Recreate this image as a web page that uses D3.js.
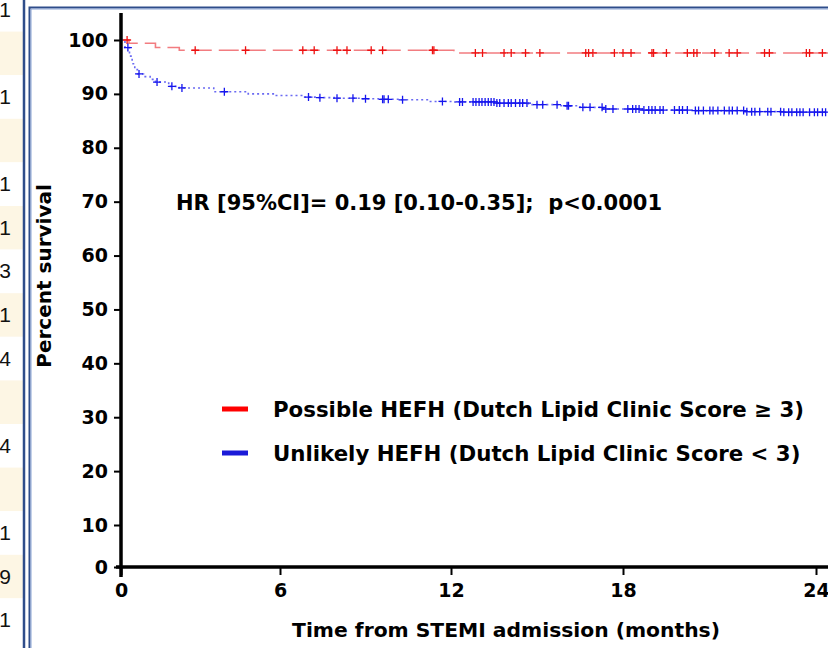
<!DOCTYPE html>
<html>
<head>
<meta charset="utf-8">
<script src="https://cdn.jsdelivr.net/npm/d3@7"></script>
<style>
	body { margin: 0; background: #fff; }
	svg { display: block; }
	text { font-family: "DejaVu Sans", "Open Sans", sans-serif; white-space: pre; }
</style>
</head>
<body>
<div id="chart"></div>
<script>

// survival steps (months, percent)
var redTimes = [0, 0.3, 1.3, 2.2, 12.1];
var redSurv  = [100, 99.4, 98.6, 98.1, 97.6];
var redCensor = [0.23, 2.8, 4.7, 6.8, 7.2, 8.0, 8.35, 9.2, 9.6, 11.35, 11.4, 12.85, 13.1, 13.85, 14.1, 14.6, 15.1,
	16.7, 16.8, 16.95, 17.7, 18.0, 18.25, 18.9, 18.95, 19.35, 20.0, 20.2, 20.3, 20.85, 21.3, 21.55, 22.4, 22.55,
	23.7, 23.8, 24.2];

var blueTimes = [0, 0.15, 0.32, 0.42, 0.52, 0.62, 0.85, 1.1, 1.3, 1.8, 2.2, 3.5, 4.8, 5.8, 6.8, 7.3, 7.9, 8.9, 9.5,
	10.2, 11.2, 12.1, 13.6, 14.7, 15.8, 16.5, 17.3, 18.6, 20.2, 21.8, 23.0];
var blueSurv  = [100, 98.6, 97.0, 95.6, 94.5, 93.7, 93.2, 92.7, 92.2, 91.4, 91.1, 90.4, 90.0, 89.7, 89.4, 89.3, 89.2,
	89.1, 89.0, 88.9, 88.6, 88.5, 88.3, 88.0, 87.8, 87.5, 87.2, 87.0, 86.9, 86.7, 86.6];
var blueCensor = [0.26, 0.68, 1.36, 1.92, 2.3, 3.9, 7.0, 7.4, 8.0, 8.56, 9.0, 9.6, 9.65, 9.8, 10.3, 11.7, 12.3, 12.4,
	12.77, 12.87, 12.98, 13.08, 13.19, 13.3, 13.4, 13.5, 13.6, 13.7, 13.85, 14.0, 14.1, 14.25, 14.4, 14.5, 14.65,
	15.0, 15.2, 15.7, 16.05, 16.1, 16.6, 16.85, 17.27, 17.4, 17.65, 18.15, 18.3, 18.4, 18.5, 18.65, 18.8, 18.9,
	19.0, 19.15, 19.25, 19.6, 19.75, 19.85, 20.0, 20.25, 20.35, 20.5, 20.7, 20.8, 20.95, 21.15, 21.3, 21.4, 21.55,
	21.75, 21.85, 22.0, 22.1, 22.25, 22.5, 22.6, 22.9, 23.0, 23.15, 23.25, 23.4, 23.5, 23.6, 23.8, 23.95, 24.05,
	24.2, 24.3];
var endTime = 24.4;

var xTicks = [0, 6, 12, 18, 24];
var yTicks = [0, 10, 20, 30, 40, 50, 60, 70, 80, 90, 100];
var legendLabels = ["Possible HEFH (Dutch Lipid Clinic Score \u2265 3)", "Unlikely HEFH (Dutch Lipid Clinic Score < 3)"];
var hrText = "HR [95%CI]= 0.19 [0.10-0.35];  p<0.0001";

// bits of the neighbouring table cut off on the left
var stripLabels = ["1", "", "1", "", "1", "1", "3", "1", "4", "", "4", "", "1", "9", "1"];

var width = 828, height = 648;

var svg = d3.select("#chart").append("svg")
	.attr("width", width)
	.attr("height", height);

svg.append("rect").attr("width", width).attr("height", height).attr("fill", "#fff");

// left strip
var rowScale = d3.scaleBand().domain(d3.range(stripLabels.length)).range([-12, 642]);
svg.append("g").selectAll("rect").data(stripLabels).enter().append("rect")
	.attr("x", 0)
	.attr("y", function(d, i) { return rowScale(i); })
	.attr("width", 23)
	.attr("height", rowScale.bandwidth())
	.attr("fill", function(d, i) { return i % 2 ? "#fdf6e4" : "#fff"; });
svg.append("g").selectAll("text").data(stripLabels).enter().append("text")
	.attr("x", 11)
	.attr("y", function(d, i) { return rowScale(i) + rowScale.bandwidth() / 2 + 7; })
	.attr("text-anchor", "end")
	.style("font-family", "'Liberation Sans', sans-serif")
	.style("font-size", "21px")
	.attr("fill", "#111")
	.text(function(d) { return d; });

// frame lines
svg.append("line").attr("x1", 24).attr("x2", 24).attr("y1", 0).attr("y2", height)
	.attr("stroke", "#2f4d8a").attr("stroke-width", 2.5);
svg.append("path").attr("d", "M29.5," + height + "V7.5H" + width)
	.attr("fill", "none").attr("stroke", "#2f4d8a").attr("stroke-width", 2);
svg.append("path").attr("d", "M31," + height + "V9H" + width)
	.attr("fill", "none").attr("stroke", "#8aa3d4").attr("stroke-width", 1);

// scales (the picture's axes are not evenly spaced, so polylinear)
var x = d3.scaleLinear().domain([0, 6, 12, 18, 24, 25]).range([121, 280, 451, 623, 816, 848]);
var y = d3.scaleLinear().domain([0, 10, 100, 105]).range([567, 525, 40, 13]);

function survAt(times, surv, t) {
	var i = d3.bisectRight(times, t) - 1;
	return surv[Math.max(0, i)];
}

function steps(times, surv) {
	var pts = times.map(function(t, i) { return { t: t, s: surv[i] }; });
	pts.push({ t: endTime, s: surv[surv.length - 1] });
	return pts;
}

var line = d3.line()
	.curve(d3.curveStepAfter)
	.x(function(d) { return x(d.t); })
	.y(function(d) { return y(d.s); });

var series = [
	{ times: redTimes, surv: redSurv, censor: redCensor, line: "#f27c80", mark: "#ee1111", dash: "20,7", w: 1.6 },
	{ times: blueTimes, surv: blueSurv, censor: blueCensor, line: "#6a6af2", mark: "#1515ee", dash: "2,3", w: 1.6 }
];

var plot = svg.append("g");
series.forEach(function(s) {
	plot.append("path")
		.attr("d", line(steps(s.times, s.surv)))
		.attr("fill", "none")
		.attr("stroke", s.line)
		.attr("stroke-width", s.w)
		.attr("stroke-dasharray", s.dash);
	plot.append("g").selectAll("path").data(s.censor).enter().append("path")
		.attr("d", function(t) {
			var cx = x(t), cy = y(survAt(s.times, s.surv, t));
			return "M" + (cx - 4) + "," + cy + "H" + (cx + 4) + "M" + cx + "," + (cy - 4) + "V" + (cy + 4);
		})
		.attr("stroke", s.mark)
		.attr("stroke-width", 1.3)
		.attr("fill", "none");
});

// axes
var yAxis = svg.append("g")
	.attr("transform", "translate(" + x(0) + ",0)")
	.call(d3.axisLeft(y).tickValues(yTicks).tickSize(7).tickPadding(6).tickSizeOuter(0));
yAxis.select(".domain").remove();
yAxis.selectAll(".tick line").attr("stroke", "#000").attr("stroke-width", 2);
yAxis.selectAll(".tick text")
	.attr("fill", "#000")
	.style("font-size", "19px")
	.style("font-weight", "bold");

var xAxis = svg.append("g")
	.attr("transform", "translate(0," + y(0) + ")")
	.call(d3.axisBottom(x).tickValues(xTicks).tickSize(8).tickPadding(9).tickSizeOuter(0));
xAxis.select(".domain").remove();
xAxis.selectAll(".tick line").attr("stroke", "#000").attr("stroke-width", 2);
xAxis.selectAll(".tick text")
	.attr("fill", "#000")
	.style("font-size", "19px")
	.style("font-weight", "bold");

svg.append("line")
	.attr("x1", x(0)).attr("x2", x(0))
	.attr("y1", y(105)).attr("y2", y(0) + 10)
	.attr("stroke", "#000").attr("stroke-width", 3.5);
svg.append("line")
	.attr("x1", x(0) - 5).attr("x2", width)
	.attr("y1", y(0)).attr("y2", y(0))
	.attr("stroke", "#000").attr("stroke-width", 3.5);

// titles
svg.append("text")
	.attr("transform", "translate(51,276) rotate(-90)")
	.attr("text-anchor", "middle")
	.style("font-size", "20px")
	.style("font-weight", "bold")
	.text("Percent survival");

svg.append("text")
	.attr("x", 506)
	.attr("y", 637)
	.attr("text-anchor", "middle")
	.style("font-size", "20.3px")
	.style("font-weight", "bold")
	.text("Time from STEMI admission (months)");

svg.append("text")
	.attr("x", 176)
	.attr("y", 210)
	.style("font-size", "21px")
	.style("font-weight", "bold")
	.text(hrText);

// legend
var legend = svg.append("g").selectAll("g").data(legendLabels).enter().append("g")
	.attr("transform", function(d, i) { return "translate(222," + (409 + i * 44) + ")"; });
legend.append("line")
	.attr("x1", 0).attr("x2", 26)
	.attr("stroke", function(d, i) { return i ? "#1a1ad8" : "#f00"; })
	.attr("stroke-width", 5);
legend.append("text")
	.attr("x", 51)
	.attr("y", 8)
	.style("font-size", "21.3px")
	.style("font-weight", "bold")
	.text(function(d) { return d; });

</script>
</body>
</html>
